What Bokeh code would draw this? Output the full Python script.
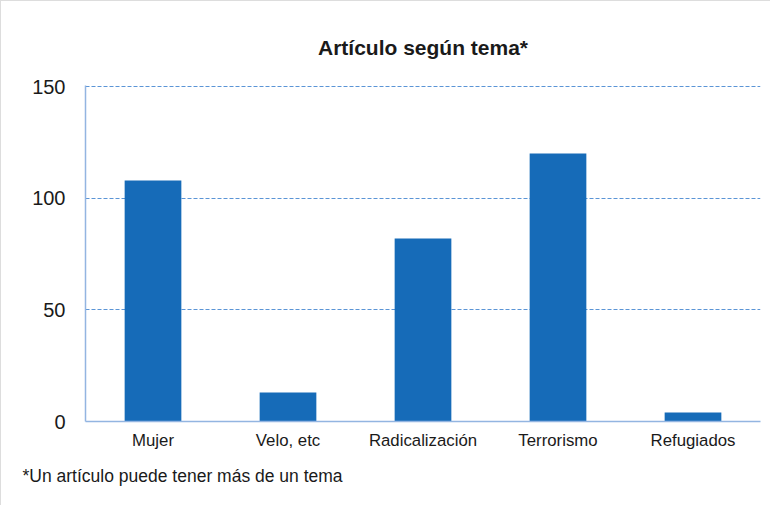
from bokeh.plotting import figure
from bokeh.models import Title, Range1d, FixedTicker
from bokeh.embed import file_html
from bokeh.resources import INLINE

categories = ["Mujer", "Velo, etc", "Radicalización", "Terrorismo", "Refugiados"]
counts = [108, 13, 82, 120, 4]
y_ticks = [0, 50, 100, 150]

FONT = "Liberation Sans"

p = figure(x_range=categories, width=770, height=505,
           output_backend="svg", toolbar_location=None,
           min_border_left=84, min_border_right=11,
           min_border_top=84, min_border_bottom=85,
           title=None)
p.y_range = Range1d(0, 150.5)

p.vbar(x=categories, top=counts, width=0.42, color="#166bb8", line_color=None)

p.add_layout(Title(text="Artículo según tema*", align="center", offset=-4,
                   text_font=FONT, text_font_size="21px", text_font_style="bold",
                   text_color="#1a1a1a", standoff=53), "above")
p.add_layout(Title(text="*Un artículo puede tener más de un tema", align="left",
                   offset=-63, text_font=FONT, text_font_size="17.5px",
                   text_font_style="normal", text_color="#1a1a1a", standoff=22), "below")

p.outline_line_color = None
p.background_fill_color = "white"
p.border_fill_color = "white"

p.xgrid.grid_line_color = None
p.ygrid.grid_line_color = "#5b95d6"
p.ygrid.grid_line_dash = "4 2"
p.ygrid.grid_line_width = 1
p.yaxis.ticker = FixedTicker(ticks=y_ticks)

for ax in (p.xaxis, p.yaxis):
    ax.axis_line_color = "#93b5e1"
    ax.axis_line_width = 1.5
    ax.major_tick_line_color = None
    ax.minor_tick_line_color = None
    ax.major_label_text_font = FONT
    ax.major_label_text_color = "#1a1a1a"

p.yaxis.major_label_text_font_size = "20px"
p.yaxis.major_label_standoff = 14
p.xaxis.major_label_text_font_size = "16.8px"
p.xaxis.major_label_standoff = 3

p.styles = {"border-left": "1px solid #dddddd", "border-top": "1px solid #dddddd"}

open("out.html", "w").write(file_html(p, INLINE))
